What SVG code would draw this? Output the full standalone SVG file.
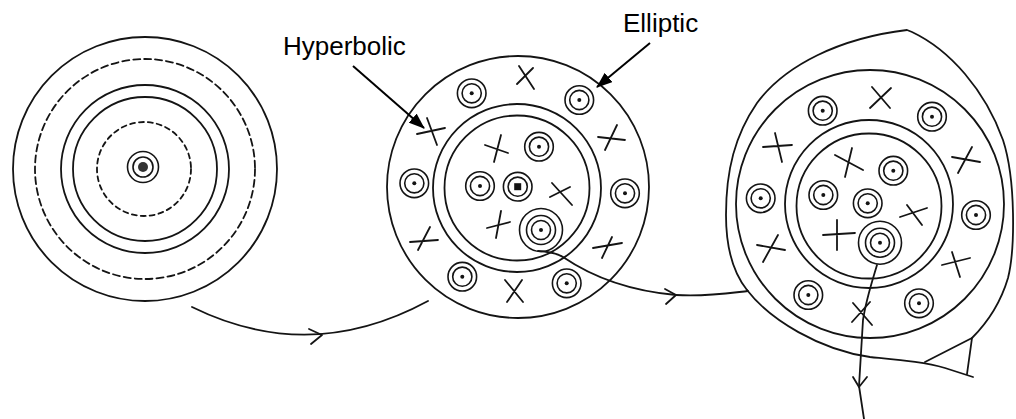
<svg xmlns="http://www.w3.org/2000/svg" width="1016" height="419" viewBox="0 0 1016 419">
<style>
.ln{fill:none;stroke:#141414;stroke-width:1.8;stroke-linecap:round;stroke-linejoin:round}
.dash1{stroke-dasharray:7 4}
.dash2{stroke-dasharray:5 4}
.rg circle{fill:none;stroke:#141414;stroke-width:1.6}
.rg circle.dot{fill:#141414;stroke:none}
.lbl{font-family:"Liberation Sans",Arial,sans-serif;font-size:26px;fill:#000}
.ptr{fill:none;stroke:#000;stroke-width:2}
</style>
<defs>
<marker id="ah" markerWidth="16" markerHeight="12" refX="15" refY="6" orient="auto" markerUnits="userSpaceOnUse"><path d="M0,0 L16,6 L0,12 z" fill="#000"/></marker>
<g id="ring" class="rg"><circle r="14.3"/><circle r="9.6"/><circle class="dot" r="2"/></g>
<g id="bigring" class="rg"><circle r="21.5"/><circle r="14.5"/><circle r="9.5"/><circle class="dot" r="2"/></g>
</defs>
<rect width="1016" height="419" fill="#fff"/>

<g id="fig-left">
<circle class="ln" cx="145" cy="169" r="132"/>
<circle class="ln dash1" cx="145" cy="169" r="110"/>
<circle class="ln" cx="145" cy="169" r="84"/>
<circle class="ln" cx="145" cy="169" r="72"/>
<circle class="ln dash2" cx="144" cy="169" r="47"/>
<g class="rg" transform="translate(143,167)"><circle r="15.5"/><circle r="10"/><circle class="dot" r="5" style="fill:#333"/></g>
</g>

<g id="fig-middle">
<circle class="ln" cx="518" cy="187" r="131"/>
<circle class="ln" cx="517" cy="188" r="84"/>
<circle class="ln" cx="517" cy="188" r="72.5"/>
<use href="#ring" x="471.7" y="93.3"/>
<use href="#ring" x="579.3" y="100"/>
<use href="#ring" x="414.3" y="183.3"/>
<use href="#ring" x="625" y="193.3"/>
<use href="#ring" x="462.3" y="276.7"/>
<use href="#ring" x="566.7" y="283.3"/>
<use href="#ring" x="539" y="146.7"/>
<use href="#ring" x="480" y="186"/>
<g class="rg" transform="translate(517.7,186.7)"><circle r="14.3"/><circle r="9.6"/><rect x="-3.5" y="-3.5" width="7" height="7" fill="#141414"/></g>
<use href="#bigring" x="541" y="230"/>
<path class="ln" d="M519,66 L534,89 M517,84 L533,68 M417,134 L445,128 M427,118 L437,145 M598,137 L625,140 M605,150 L617,125 M410,242 L438,240 M418,250 L430,227 M593,248 L622,243 M602,258 L612,237 M505,280 L523,302 M507,302 L522,280 M485,145 L508,153 M494,162 L501,135 M487,228 L510,222 M496,238 L501,211 M550,197 L570,187 M552,183 L572,205"/>
</g>

<g id="fig-right">
<path class="ln" d="M747,290 C735,275 726,250 726,215 C726,170 735,135 757,103 C785,65 840,38 907,30 L912,32 C950,50 985,90 1003,140 C1016,180 1015,250 1008,278 C1000,305 985,325 972,338 L925,362"/>
<path class="ln" d="M747,290 C770,320 820,350 870,357 C900,360 925,362 945,368 L973,377 M972,338 L967,374"/>
<circle class="ln" cx="870" cy="204" r="134"/>
<circle class="ln" cx="869" cy="204" r="84"/>
<circle class="ln" cx="869" cy="206" r="72.5"/>
<use href="#ring" x="822.7" y="110.7"/>
<use href="#ring" x="932" y="116.7"/>
<use href="#ring" x="760.7" y="198.3"/>
<use href="#ring" x="976" y="215"/>
<use href="#ring" x="808.3" y="295"/>
<use href="#ring" x="919" y="303.3"/>
<use href="#ring" x="893.3" y="170.7"/>
<use href="#ring" x="823.3" y="195"/>
<use href="#ring" x="867.7" y="203.3"/>
<use href="#bigring" x="880" y="242.7"/>
<path class="ln" d="M872,87 L890,108 M870,108 L891,88 M763,147 L792,145 M775,133 L782,162 M952,157 L980,162 M958,173 L972,147 M757,245 L785,250 M763,262 L778,235 M942,265 L970,258 M952,252 L960,277 M835,155 L863,170 M845,177 L852,148 M900,217 L927,208 M907,205 L922,225 M823,235 L855,233 M837,220 L837,250 M853,303 L872,325 M852,322 L870,302"/>
</g>

<g id="label-hyperbolic">
<text class="lbl" x="283" y="55">Hyperbolic</text>
<line class="ptr" x1="353" y1="66" x2="424" y2="128" marker-end="url(#ah)"/>
</g>
<g id="label-elliptic">
<text class="lbl" x="623" y="32">Elliptic</text>
<line class="ptr" x1="650" y1="43" x2="597" y2="87" marker-end="url(#ah)"/>
</g>

<g id="connectors">
<path class="ln" d="M192,307 Q310,365 428,301"/>
<path class="ln" d="M309,329 L322,335 L311,344"/>
<path class="ln" d="M538,251 Q555,252 563,257 C585,272 620,290 676,295 C705,297 730,293 748,291"/>
<path class="ln" d="M665,289 L676,295 L666,304"/>
<path class="ln" d="M877,265 C871,285 866,300 863,320 L859,386 L864,419"/>
<path class="ln" d="M853,377 L859,387 L867,377"/>
</g>
</svg>
